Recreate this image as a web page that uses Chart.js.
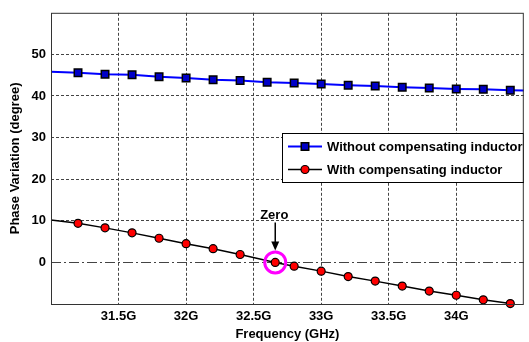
<!DOCTYPE html>
<html>
<head>
<meta charset="utf-8">
<script src="https://cdn.jsdelivr.net/npm/chart.js@4/dist/chart.umd.min.js"></script>
<style>
  html, body { margin: 0; padding: 0; background: #fff; }
  #wrap { width: 529px; height: 342px; }
</style>
</head>
<body>
<div id="wrap"><canvas id="chart"></canvas></div>
<script>
// --- data ---
const freqWithout = [31.0, 31.2, 31.4, 31.6, 31.8, 32.0, 32.2, 32.4, 32.6, 32.8, 33.0, 33.2, 33.4, 33.6, 33.8, 34.0, 34.2, 34.4, 34.5];
const phaseWithout = [45.8, 45.6, 45.2, 45.1, 44.6, 44.3, 43.9, 43.7, 43.3, 43.1, 42.9, 42.6, 42.4, 42.1, 41.9, 41.7, 41.6, 41.4, 41.3];
const freqWith = [31.0, 31.2, 31.4, 31.6, 31.8, 32.0, 32.2, 32.4, 32.66, 32.8, 33.0, 33.2, 33.4, 33.6, 33.8, 34.0, 34.2, 34.4];
const phaseWith = [10.2, 9.4, 8.3, 7.1, 5.8, 4.5, 3.3, 1.9, 0, -0.9, -2.1, -3.4, -4.5, -5.7, -6.9, -7.9, -9.0, -9.9];
const seriesLabels = ['Without compensating inductor', 'With compensating inductor'];
const xTicks = [31.5, 32, 32.5, 33, 33.5, 34];
const yTicks = [0, 10, 20, 30, 40, 50];
const zeroPoint = { x: 32.66, y: 0, label: 'Zero' };

const FONT = '"Liberation Sans", Arial, sans-serif';

const toPoints = (xs, ys) => xs.map((x, i) => ({ x: x, y: ys[i] }));
// edge points (31.0 / 34.5) only carry the line, no marker
const markerRadius = (xs, r) => xs.map(x => (x === 31.0 || x === 34.5) ? 0 : r);

// frame, dash-dot zero line, legend and "Zero" callout
const decorations = {
    id: 'decorations',
    beforeDatasetsDraw(chart) {
        const { ctx, chartArea: a, scales: { y } } = chart;
        const y0 = y.getPixelForValue(0);
        ctx.save();
        ctx.strokeStyle = '#444';
        ctx.lineWidth = 1;
        ctx.setLineDash([10, 3, 2, 3]);
        ctx.beginPath();
        ctx.moveTo(a.left, Math.round(y0) + 0.5);
        ctx.lineTo(a.right, Math.round(y0) + 0.5);
        ctx.stroke();
        ctx.restore();
    },
    afterDatasetsDraw(chart) {
        const { ctx, chartArea: a, scales: { x, y } } = chart;
        ctx.save();
        // plot frame
        ctx.strokeStyle = '#333';
        ctx.lineWidth = 1;
        ctx.strokeRect(a.left + 0.5, a.top + 0.5, a.right - a.left - 1, a.bottom - a.top);

        // zero callout
        const zx = x.getPixelForValue(zeroPoint.x);
        const zy = y.getPixelForValue(zeroPoint.y);
        ctx.strokeStyle = '#ff00ff';
        ctx.lineWidth = 3;
        ctx.beginPath();
        ctx.arc(zx, zy, 10.5, 0, Math.PI * 2);
        ctx.stroke();

        ctx.strokeStyle = '#000';
        ctx.fillStyle = '#000';
        ctx.lineWidth = 1.5;
        ctx.beginPath();
        ctx.moveTo(zx, zy - 40);
        ctx.lineTo(zx, zy - 18);
        ctx.stroke();
        ctx.beginPath();
        ctx.moveTo(zx - 4, zy - 21);
        ctx.lineTo(zx + 4, zy - 21);
        ctx.lineTo(zx, zy - 12);
        ctx.closePath();
        ctx.fill();

        ctx.font = 'bold 13px ' + FONT;
        ctx.textAlign = 'center';
        ctx.textBaseline = 'middle';
        ctx.fillText(zeroPoint.label, zx - 1, zy - 47);

        // legend box
        const bx = 282, by = 133, bw = a.right - bx, bh = 49;
        ctx.fillStyle = '#fff';
        ctx.fillRect(bx, by, bw, bh);
        ctx.strokeStyle = '#000';
        ctx.lineWidth = 1;
        ctx.strokeRect(bx + 0.5, by + 0.5, bw - 1, bh);
        chart.data.datasets.forEach((ds, i) => {
            const ly = by + 13.5 + i * 23;
            ctx.strokeStyle = ds.borderColor;
            ctx.lineWidth = ds.borderWidth;
            ctx.beginPath();
            ctx.moveTo(288, ly);
            ctx.lineTo(322, ly);
            ctx.stroke();
            ctx.lineWidth = ds.pointBorderWidth;
            ctx.strokeStyle = ds.pointBorderColor;
            ctx.fillStyle = ds.pointBackgroundColor;
            Chart.helpers.drawPoint(ctx, { pointStyle: ds.pointStyle, radius: ds.legendRadius, borderWidth: ds.pointBorderWidth, rotation: 0 }, 305, ly);
            ctx.fillStyle = '#000';
            ctx.font = 'bold 13px ' + FONT;
            ctx.textAlign = 'left';
            ctx.textBaseline = 'middle';
            ctx.fillText(ds.label, 327, ly + 1);
        });
        ctx.restore();
    }
};

new Chart(document.getElementById('chart'), {
    type: 'line',
    data: {
        datasets: [{
            label: seriesLabels[0],
            data: toPoints(freqWithout, phaseWithout),
            borderColor: '#0000ff',
            borderWidth: 2,
            pointStyle: 'rect',
            pointRadius: markerRadius(freqWithout, 5.3),
            legendRadius: 5.3,
            pointBackgroundColor: '#0000c8',
            pointBorderColor: '#000',
            pointBorderWidth: 1.5,
            tension: 0,
            clip: 6
        }, {
            label: seriesLabels[1],
            data: toPoints(freqWith, phaseWith),
            borderColor: '#000',
            borderWidth: 1.5,
            pointStyle: 'circle',
            pointRadius: markerRadius(freqWith, 4),
            legendRadius: 4,
            pointBackgroundColor: '#ff0000',
            pointBorderColor: '#000',
            pointBorderWidth: 1.2,
            tension: 0,
            clip: 6
        }]
    },
    options: {
        responsive: true,
        maintainAspectRatio: false,
        animation: false,
        layout: { padding: { top: 12, right: 0, left: 0, bottom: 0 } },
        plugins: { legend: { display: false }, tooltip: { enabled: false } },
        scales: {
            x: {
                type: 'linear',
                min: 31,
                max: 34.5,
                afterFit: s => { s.height = 38; },
                afterBuildTicks: s => { s.ticks = xTicks.map(v => ({ value: v })); },
                ticks: {
                    padding: 5,
                    color: '#000',
                    font: { family: FONT, size: 13, weight: 'bold' },
                    callback: v => v + 'G'
                },
                grid: { color: '#444', drawTicks: false },
                border: { display: false, dash: [3, 2] },
                title: {
                    display: true,
                    text: 'Frequency (GHz)',
                    color: '#000',
                    font: { family: FONT, size: 13, weight: 'bold' },
                    padding: { top: 0, bottom: 0 }
                }
            },
            y: {
                min: -10,
                max: 60,
                afterFit: s => { s.width = 51; },
                afterBuildTicks: s => { s.ticks = yTicks.map(v => ({ value: v })); },
                ticks: {
                    padding: 5,
                    color: '#000',
                    font: { family: FONT, size: 13, weight: 'bold' }
                },
                grid: {
                    color: c => (c.tick && c.tick.value === 0) ? 'rgba(0,0,0,0)' : '#444',
                    drawTicks: false
                },
                border: { display: false, dash: [3, 2] },
                title: {
                    display: true,
                    text: 'Phase Variation (degree)',
                    color: '#000',
                    font: { family: FONT, size: 13, weight: 'bold' },
                    padding: { top: 8, bottom: 0 }
                }
            }
        }
    },
    plugins: [decorations]
});
</script>
</body>
</html>
